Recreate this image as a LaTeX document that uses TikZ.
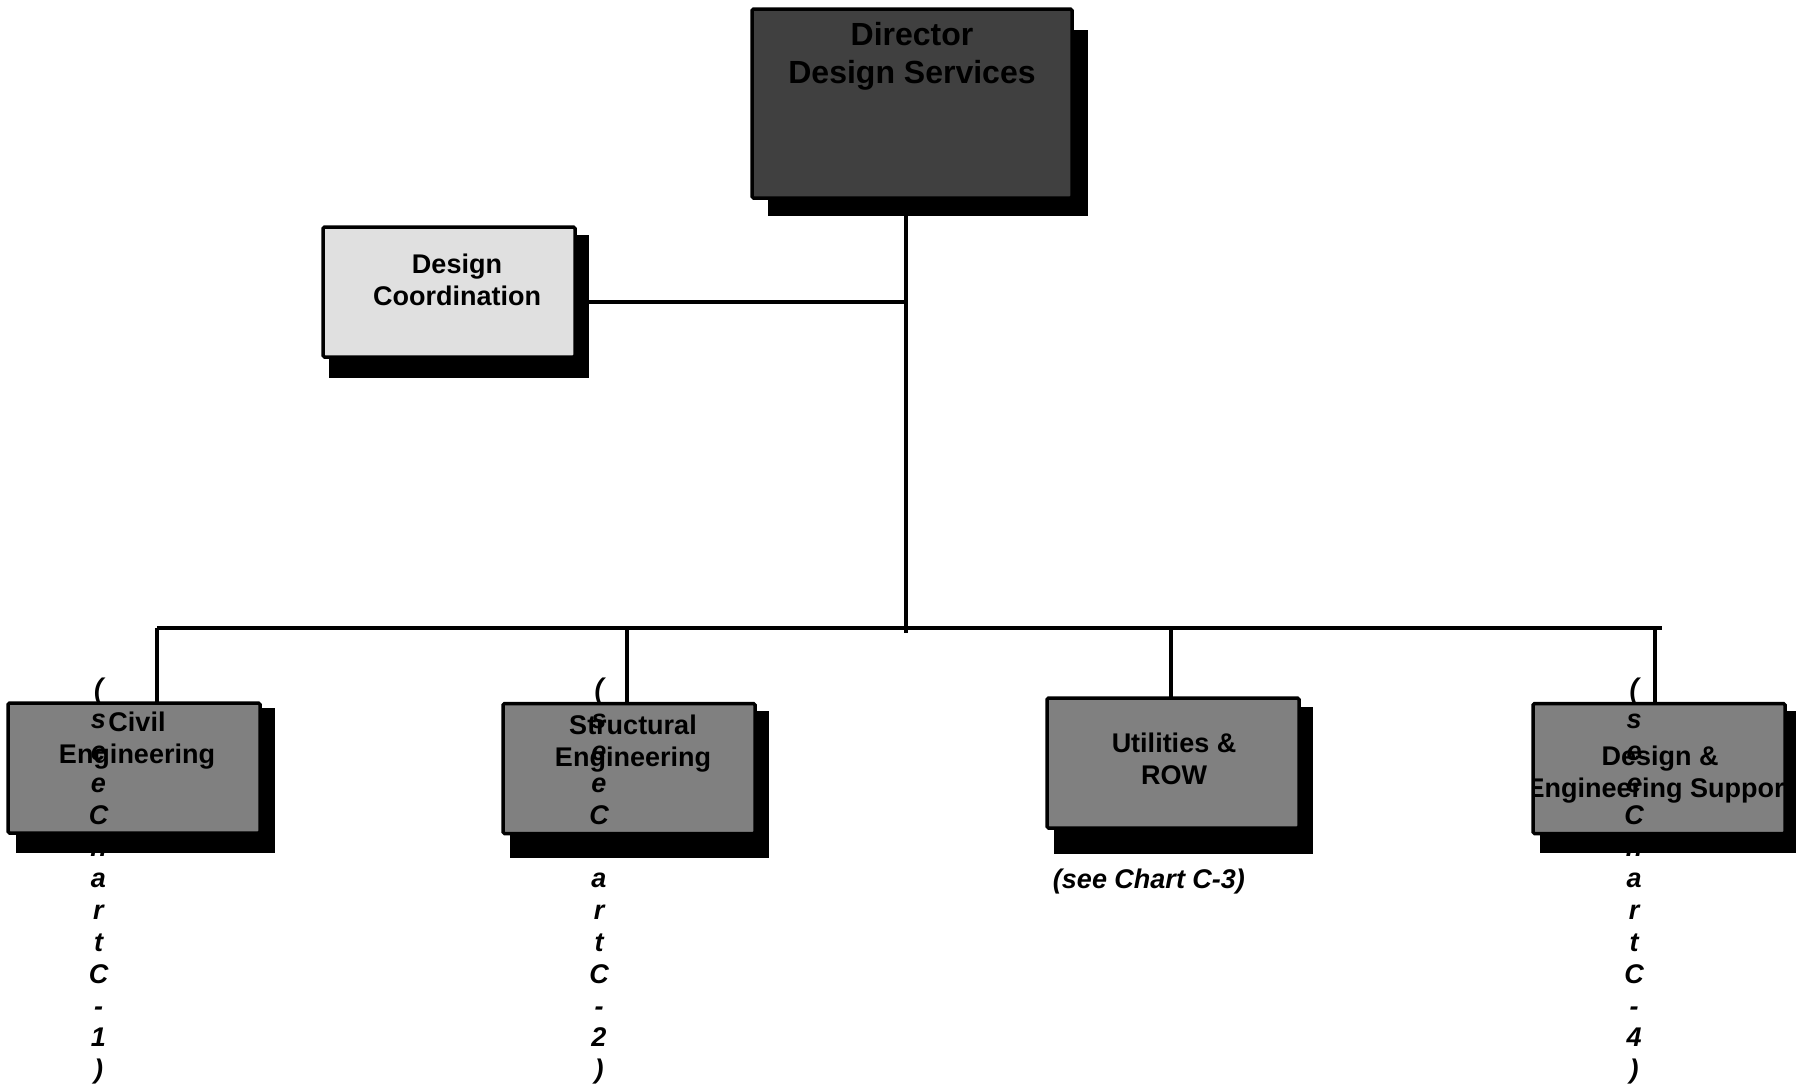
\documentclass[tikz,border=0pt]{standalone}
\usepackage{fontspec}
\setmainfont{Liberation Sans}
\begin{document}
\begin{tikzpicture}[x=1pt,y=-1pt,
  conn/.style={line width=3.5pt},
  shade/.style={fill=black},
  unit/.style={draw=black,line width=3.5pt,rounded corners=1.5pt,inner sep=0pt,
    minimum width=252pt,minimum height=130pt},
  lbl/.style={align=center,inner sep=0pt,text=black,
    font=\fontsize{27}{32}\selectfont\bfseries},
  note/.style={inner sep=0pt,text=black,font=\fontsize{27}{32}\selectfont\bfseries\itshape},
  ref/.style={anchor=base,inner sep=0pt,text=black,font=\fontsize{27}{32}\selectfont\bfseries\itshape}
]
\useasboundingbox (0,0) rectangle (1796,1084);
\definecolor{topgray}{HTML}{404040}
\definecolor{midgray}{HTML}{808080}
\definecolor{lightgray}{HTML}{E0E0E0}

% trunk and bar ends
\coordinate (trunk) at (906,633);
\coordinate (barL) at (157,628);
\coordinate (barR) at (1662,628);

% connectors
\draw[conn] (906,198) -- (trunk);
\draw[conn] (589,302) -- (906,302);
\draw[conn] (barL) -- (barR);
\draw[conn] (157,628) -- (157,703);
\draw[conn] (627,628) -- (627,703);
\draw[conn] (1171,628) -- (1171,698);
\draw[conn] (1655,628) -- (1655,703);

% drop shadows
\fill[shade] (768,30) rectangle (1088,216);
\fill[shade] (329,235) rectangle (589,378);
\fill[shade] (16,708) rectangle (275,853);
\fill[shade] (510,711) rectangle (769,858);
\fill[shade] (1054,707) rectangle (1313,854);
\fill[shade] (1540,711) rectangle (1800,853);

% boxes
\node[unit,fill=topgray,minimum width=320pt,minimum height=189pt] (dir) at (912,103.5) {};
\node[unit,fill=lightgray] (coord) at (449,292) {};
\node[unit,fill=midgray] (civil) at (134,768) {};
\node[unit,fill=midgray] (struct) at (629,768.5) {};
\node[unit,fill=midgray] (util) at (1173,763) {};
\node[unit,fill=midgray] (des) at (1659,768.5) {};

% box titles
\node[lbl,font=\fontsize{32}{38}\selectfont\bfseries] (dirT) at (912,56) {Director\\Design Services};
\node[lbl] (coordT) at (457,280) {Design\\Coordination};
\node[lbl] (civilT) at (137,741) {Civil\\Engineering};
\node[lbl] (structT) at (633,744) {Structural\\Engineering};
\node[lbl] (utilT) at (1174,759) {Utilities \&\\ROW};
\begin{scope}
  \clip (1535,705) rectangle (1783,832);
  \node[lbl] (desT) at (1660,775) {Design \&\\Engineering Support};
\end{scope}

% chart references
\node[note] (utilR) at (1149,882) {(see Chart C-3)};
\foreach \col/\xx/\num in {civ/98.5/1, str/599/2, des/1634/4}{
  \foreach \ch [count=\k from 0] in {{(},s,e,e,C,h,a,r,t,C,-,\num,{)}}{
    \node[ref] (\col-\k) at (\xx,697+31.8*\k) {\ch};
  }
}
\end{tikzpicture}
\end{document}
